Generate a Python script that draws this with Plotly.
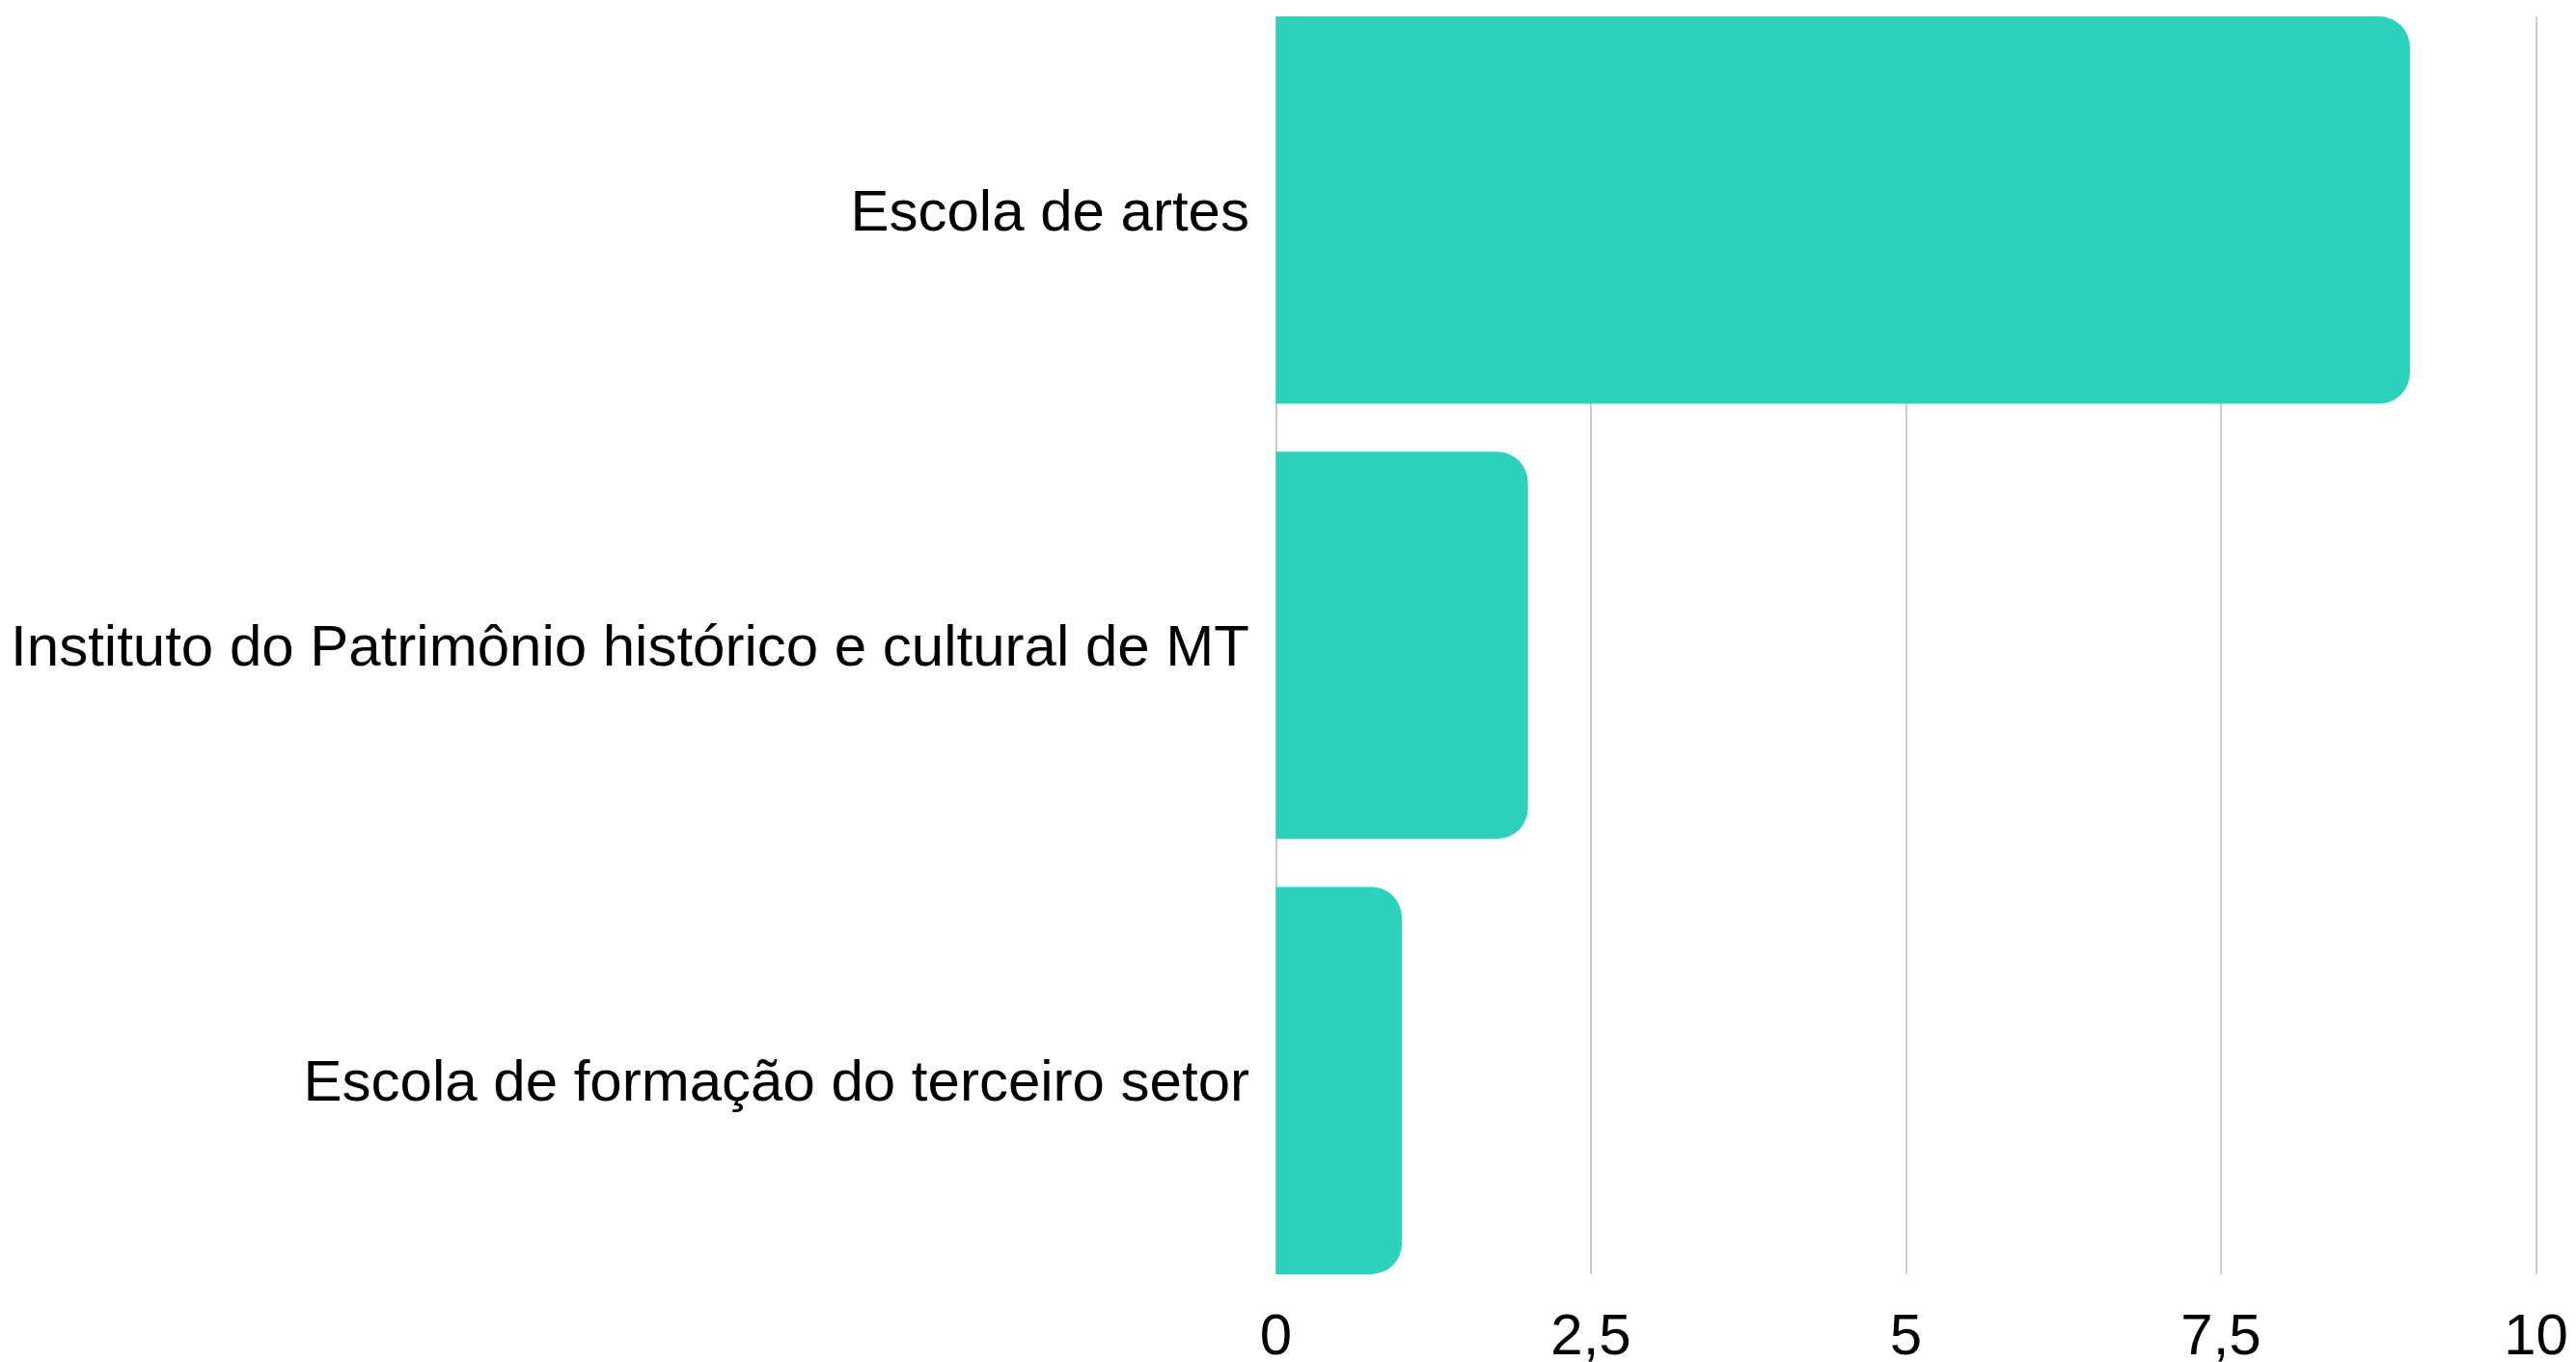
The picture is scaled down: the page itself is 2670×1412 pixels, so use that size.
import plotly.graph_objects as go

categories = [
    "Escola de artes",
    "Instituto do Patrimônio histórico e cultural de MT",
    "Escola de formação do terceiro setor",
]
values = [9, 2, 1]
x_ticks = [0, 2.5, 5, 7.5, 10]
x_ticktext = ["0", "2,5", "5", "7,5", "10"]

bar_color = "#2ed1bb"
grid_color = "#cccccc"
gap = 0.11

fig = go.Figure(go.Bar(
    x=values,
    y=categories,
    orientation="h",
    marker=dict(color=bar_color, cornerradius=32, line=dict(width=0)),
    hoverinfo="x+y",
))

# page body adds an 8px margin, so shift the figure back by that much
fig.update_layout(
    width=2670,
    height=1412,
    margin=dict(l=1313, r=48, t=9, b=99, autoexpand=False),
    paper_bgcolor="white",
    plot_bgcolor="white",
    bargap=gap,
    showlegend=False,
    separators=",.",
    font=dict(family="Liberation Sans, Arial, sans-serif", size=60, color="black"),
)

# pad the range a touch so plotly keeps the gridlines at 0 and 10
pad = 1.5 / 130.6
fig.update_xaxes(
    range=[-pad, 10 + pad],
    tickvals=x_ticks,
    ticktext=x_ticktext,
    showgrid=True,
    gridcolor=grid_color,
    gridwidth=1.5,
    zeroline=False,
    showline=False,
    ticks="",
    ticklabelstandoff=22,
    ticklabeloverflow="allow",
    tickfont=dict(size=60),
    automargin=False,
)

fig.update_yaxes(
    categoryorder="array",
    categoryarray=categories,
    range=[len(categories) - 0.5 - gap / 2, -0.5 + gap / 2],
    showgrid=False,
    zeroline=False,
    showline=False,
    ticks="",
    ticklabelstandoff=25,
    tickfont=dict(size=60),
    automargin=False,
)

fig.write_html("out.html")
